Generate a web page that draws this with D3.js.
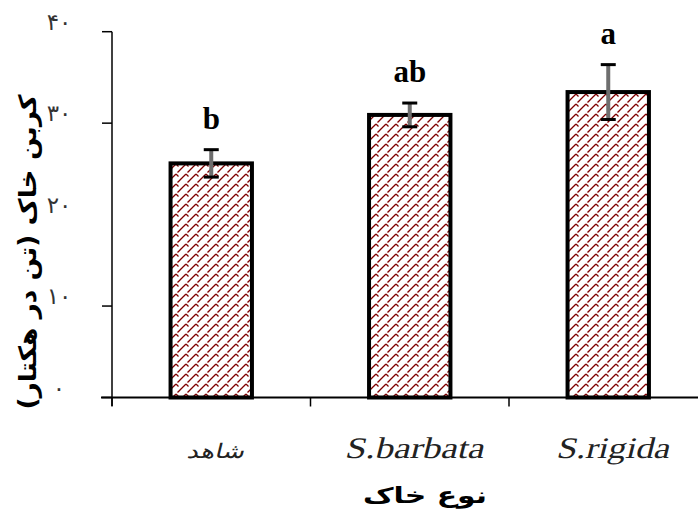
<!DOCTYPE html>
<html>
<head>
<meta charset="utf-8">
<script src="https://cdn.jsdelivr.net/npm/d3@7"></script>
<style>
  body { margin: 0; background: #fff; }
  svg { display: block; }
</style>
</head>
<body>
<script>
"use strict";

const width = 698;
const height = 512;

// data
const categories = ["شاهد", "S.barbata", "S.rigida"];
const means = [25.6, 30.9, 33.4];
const errors = [1.5, 1.3, 3.0];
const letters = ["b", "ab", "a"];
const yTicks = [0, 10, 20, 30, 40];
const yTickLabels = ["۰", "۱۰", "۲۰", "۳۰", "۴۰"];
const labelWidths = [58, 139, 113];

const svg = d3
  .select("body")
  .append("svg")
  .attr("width", width)
  .attr("height", height);

// hatch pattern for the bars (broken diagonals with little back ticks)
const defs = svg.append("defs");
const pat = defs
  .append("pattern")
  .attr("id", "hatch")
  .attr("patternUnits", "userSpaceOnUse")
  .attr("width", 10)
  .attr("height", 10);
pat.append("rect").attr("width", 10).attr("height", 10).attr("fill", "#fff");
pat
  .append("path")
  .attr("d", "M0,10 L6,4 M7.5,2.5 L10,0 M6,4 L8.5,6.5 M-1,1 L1,-1 M9,11 L11,9")
  .attr("stroke", "#800000")
  .attr("stroke-width", 1.3)
  .attr("fill", "none");

const x = d3
  .scaleBand()
  .domain(categories)
  .range([112, 707.5])
  .paddingInner(0.59)
  .paddingOuter(0.295);
const y = d3.scaleLinear().domain([0, 40]).range([397.5, 31.7]);

// y axis
svg
  .append("line")
  .attr("x1", 112)
  .attr("x2", 112)
  .attr("y1", y(40))
  .attr("y2", 406)
  .attr("stroke", "#000")
  .attr("stroke-width", 1.5);

svg
  .selectAll(".ytick")
  .data(yTicks.filter((d) => d !== 20)) // no tick mark at 20 in the original
  .enter()
  .append("line")
  .attr("x1", 102)
  .attr("x2", 112)
  .attr("y1", (d) => y(d))
  .attr("y2", (d) => y(d))
  .attr("stroke", "#000")
  .attr("stroke-width", 1.5);

svg
  .selectAll(".ylab")
  .data(yTicks)
  .enter()
  .append("text")
  .attr("x", 59)
  .attr("y", (d) => y(d) - 2)
  .attr("text-anchor", "middle")
  .attr("font-family", "DejaVu Sans")
  .attr("font-size", 23)
  .attr("fill", "#333")
  .text((d, i) => yTickLabels[i]);

// x axis
svg
  .append("line")
  .attr("x1", 101)
  .attr("x2", width)
  .attr("y1", y(0))
  .attr("y2", y(0))
  .attr("stroke", "#000")
  .attr("stroke-width", 2);

const gap = (x.step() * x.paddingInner()) / 2;
svg
  .selectAll(".xtick")
  .data(categories)
  .enter()
  .append("line")
  .attr("x1", (d) => x(d) - gap)
  .attr("x2", (d) => x(d) - gap)
  .attr("y1", y(0))
  .attr("y2", y(0) + 9)
  .attr("stroke", "#000")
  .attr("stroke-width", 1.5);

// bars
svg
  .selectAll(".bar")
  .data(means)
  .enter()
  .append("rect")
  .attr("x", (d, i) => x(categories[i]))
  .attr("y", (d) => y(d))
  .attr("width", x.bandwidth())
  .attr("height", (d) => y(0) - y(d))
  .attr("fill", "url(#hatch)")
  .attr("stroke", "#000")
  .attr("stroke-width", 4);

// error bars
const cx = (i) => x(categories[i]) + x.bandwidth() / 2;

svg
  .selectAll(".err")
  .data(means)
  .enter()
  .append("line")
  .attr("x1", (d, i) => cx(i))
  .attr("x2", (d, i) => cx(i))
  .attr("y1", (d, i) => y(d + errors[i]))
  .attr("y2", (d, i) => y(d - errors[i]))
  .attr("stroke", "#6e6e6e")
  .attr("stroke-width", 4);

["top", "bottom"].forEach(function (side) {
  svg
    .selectAll(".cap-" + side)
    .data(means)
    .enter()
    .append("line")
    .attr("x1", (d, i) => cx(i) - 7.5)
    .attr("x2", (d, i) => cx(i) + 7.5)
    .attr("y1", (d, i) => y(side === "top" ? d + errors[i] : d - errors[i]))
    .attr("y2", (d, i) => y(side === "top" ? d + errors[i] : d - errors[i]))
    .attr("stroke", "#000")
    .attr("stroke-width", 3);
});

// significance letters
svg
  .selectAll(".letter")
  .data(letters)
  .enter()
  .append("text")
  .attr("x", (d, i) => cx(i))
  .attr("y", (d, i) => y(means[i] + errors[i]) - 21)
  .attr("text-anchor", "middle")
  .attr("font-family", "Liberation Serif")
  .attr("font-weight", "bold")
  .attr("font-size", 31)
  .text((d) => d);

// category labels (italic faked with a skew so the serif face is kept)
svg
  .selectAll(".xlab")
  .data(categories)
  .enter()
  .append("text")
  .attr("transform", (d, i) => "translate(" + (cx(i) + 4) + ",458) skewX(-14)")
  .attr("text-anchor", "middle")
  .attr("font-family", (d, i) => (i === 0 ? "DejaVu Sans" : "Liberation Serif"))
  .attr("font-size", (d, i) => (i === 0 ? 20 : 30))
  .attr("textLength", (d, i) => labelWidths[i])
  .attr("lengthAdjust", "spacingAndGlyphs")
  .attr("fill", "#222")
  .text((d) => d);

// axis titles
svg
  .append("text")
  .attr("x", 425)
  .attr("y", 503)
  .attr("text-anchor", "middle")
  .attr("font-family", "DejaVu Sans")
  .attr("font-weight", "bold")
  .attr("font-size", 22)
  .attr("textLength", 124)
  .attr("lengthAdjust", "spacingAndGlyphs")
  .text("نوع خاک");

svg
  .append("text")
  .attr("transform", "translate(36,252) rotate(-90)")
  .attr("text-anchor", "middle")
  .attr("font-family", "DejaVu Sans")
  .attr("font-weight", "bold")
  .attr("font-size", 24)
  .attr("textLength", 315)
  .attr("lengthAdjust", "spacingAndGlyphs")
  .text("کربن خاک (تن در هکتار)");
</script>
</body>
</html>
